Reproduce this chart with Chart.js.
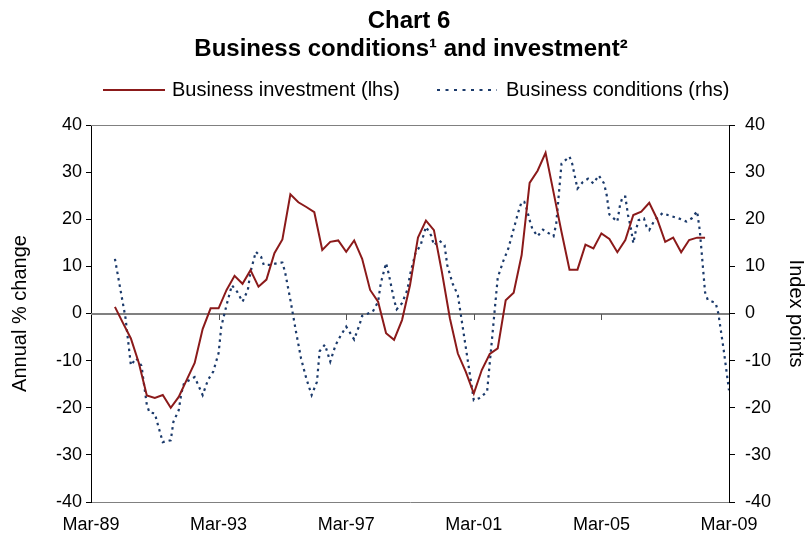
<!DOCTYPE html>
<html><head><meta charset="utf-8">
<script src="https://cdn.jsdelivr.net/npm/chart.js@4/dist/chart.umd.min.js"></script>
<style>html,body{margin:0;padding:0;background:#fff}#wrap{width:809px;height:539px}</style>
</head><body><div id="wrap"><canvas id="c" width="809" height="539"></canvas></div>
<script>
const titleLines = ['Chart 6', 'Business conditions\u00B9 and investment\u00B2'];
const seriesNames = ['Business investment (lhs)', 'Business conditions (rhs)'];
const axisTitles = ['Annual % change', 'Index points'];
const xTickLabels = ['Mar-89', 'Mar-93', 'Mar-97', 'Mar-01', 'Mar-05', 'Mar-09'];
const axisStart = '1989-03';
const axisEnd = '2009-03';

// Business investment, quarterly, starting Dec-89 (annual % change, lhs)
const investmentStart = '1989-12';
const investmentValues = [1.4, -2.0, -5.3, -10.5, -17.4, -17.9, -17.3, -20.0, -17.7, -14.1, -10.5, -3.3,
  1.1, 1.1, 5.0, 8.0, 6.3, 9.2, 5.7, 7.2, 12.8, 15.7, 25.3, 23.6, 22.6, 21.5, 13.5, 15.2, 15.5, 13.1,
  15.5, 11.6, 5.0, 2.5, -4.2, -5.6, -1.4, 6.0, 16.1, 19.7, 17.7, 8.8, -1.0, -8.5, -12.4, -17.0, -12.0,
  -8.6, -7.4, 2.8, 4.4, 12.4, 27.7, 30.3, 34.1, 25.7, 17.3, 9.3, 9.3, 14.6, 13.8, 17.0, 15.8, 13.0,
  15.6, 20.9, 21.6, 23.5, 20.0, 15.2, 16.1, 13.0, 15.6, 16.1, 16.1];

// Business conditions (index points, rhs)
const conditionsDates = ['1989-12','1990-04','1990-06','1990-08','1990-10','1990-12','1991-01','1991-03','1991-04','1991-06',
  '1991-09','1991-10','1991-12','1992-01','1992-02','1992-06','1992-09','1992-11','1993-01','1993-03',
  '1993-04','1993-06','1993-08','1993-10','1993-12','1994-02','1994-03','1994-05','1994-07','1994-08',
  '1994-10','1995-02','1995-03','1995-04','1995-06','1995-08','1995-10','1995-12','1996-02','1996-04',
  '1996-05','1996-07','1996-09','1996-11','1997-01','1997-03','1997-06','1997-08','1997-09','1998-01',
  '1998-03','1998-04','1998-06','1998-07','1998-09','1998-10','1998-12','1999-02','1999-03','1999-05',
  '1999-07','1999-09','1999-11','1999-12','2000-02','2000-04','2000-05','2000-07','2000-09','2001-03',
  '2001-05','2001-08','2001-12','2002-02','2002-04','2002-05','2002-07','2002-08','2002-09','2002-10',
  '2002-11','2002-12','2003-01','2003-03','2003-05','2003-09','2003-10','2003-12','2004-03','2004-04',
  '2004-06','2004-08','2004-10','2004-12','2005-02','2005-04','2005-05','2005-06','2005-09','2005-10',
  '2005-11','2005-12','2006-01','2006-02','2006-03','2006-04','2006-05','2006-07','2006-08','2006-09',
  '2006-11','2007-02','2007-04','2007-08','2007-11','2008-01','2008-03','2008-04','2008-06','2008-07',
  '2008-10','2008-11','2009-01','2009-03'];
const conditionsValues = [11.6, -1.0, -11.0, -9.5, -11.1, -19.4, -21.0, -21.2, -23.3, -27.3,
  -26.9, -23.0, -20.5, -16.9, -14.8, -13.5, -17.3, -14.1, -12.3, -8.4,
  -2.8, 1.8, 6.0, 4.6, 2.5, 5.0, 8.8, 13.1, 12.0, 10.3,
  10.3, 10.8, 10.8, 8.8, 2.9, -3.5, -9.5, -13.8, -17.3, -14.5,
  -8.0, -6.6, -10.2, -6.7, -4.6, -2.8, -5.5, -2.4, -0.5, 0.4,
  2.5, 6.4, 10.7, 8.4, 2.9, 0.9, 2.2, 5.0, 8.2, 12.7,
  14.5, 18.4, 16.5, 14.5, 15.5, 14.5, 10.3, 6.4, 3.9, -18.4,
  -18.0, -16.6, 7.6, 11.0, 13.8, 15.9, 20.0, 22.0, 23.7, 23.7,
  22.0, 19.8, 18.0, 16.4, 17.8, 16.4, 19.0, 31.8, 33.3, 31.8,
  26.5, 27.9, 28.6, 27.6, 29.3, 27.6, 25.1, 21.0, 19.5, 23.0,
  24.8, 24.8, 20.9, 18.4, 14.9, 17.7, 19.8, 20.2, 18.4, 17.7,
  19.8, 21.3, 20.9, 20.2, 19.5, 20.2, 21.7, 17.7, 4.5, 2.9,
  2.2, 0.0, -7.7, -16.3];

const yMin = -40, yMax = 40, yStep = 10;

function monthIndex(s) {
  const [y, m] = s.split('-').map(Number);
  const [y0, m0] = axisStart.split('-').map(Number);
  return (y - y0) * 12 + (m - m0);
}
const xMax = monthIndex(axisEnd);
const xStep = xMax / (xTickLabels.length - 1);

const invX0 = monthIndex(investmentStart);
const investmentData = investmentValues.map((v, i) => ({ x: invX0 + 3 * i, y: v }));
const conditionsData = conditionsDates.map((d, i) => ({ x: monthIndex(d), y: conditionsValues[i] }));

const FONT = '"Liberation Sans", Arial, sans-serif';
const RED = '#8B1A1A';
const NAVY = '#1B3A6B';

const decor = {
  id: 'decor',
  beforeDatasetsDraw(chart) {
    const { ctx, chartArea: a, scales } = chart;
    ctx.save();
    ctx.strokeStyle = '#808080';
    ctx.lineWidth = 1;
    ctx.beginPath();
    ctx.moveTo(a.left, a.top + 0.5);
    ctx.lineTo(a.right, a.top + 0.5);
    ctx.stroke();
    const y0 = Math.round(scales.y.getPixelForValue(0));
    ctx.lineWidth = 2;
    ctx.beginPath();
    ctx.moveTo(a.left, y0);
    ctx.lineTo(a.right, y0);
    ctx.stroke();
    ctx.strokeStyle = '#555';
    ctx.lineWidth = 1;
    for (let k = 1; k < xTickLabels.length - 1; k++) {
      const px = Math.round(scales.x.getPixelForValue(k * xStep)) + 0.5;
      ctx.beginPath();
      ctx.moveTo(px, y0);
      ctx.lineTo(px, y0 + 6);
      ctx.stroke();
    }
    ctx.restore();
  },
  afterDraw(chart) {
    const { ctx } = chart;
    ctx.save();
    ctx.fillStyle = '#000';
    ctx.textAlign = 'center';
    ctx.textBaseline = 'middle';
    ctx.font = 'bold 24px ' + FONT;
    ctx.fillText(titleLines[0], 409, 21);
    ctx.fillText(titleLines[1], 411, 49);
    ctx.font = '20px ' + FONT;
    ctx.textAlign = 'left';
    const ly = 90;
    ctx.strokeStyle = RED;
    ctx.lineWidth = 2;
    ctx.beginPath(); ctx.moveTo(103, ly); ctx.lineTo(165, ly); ctx.stroke();
    ctx.fillText(seriesNames[0], 172, ly);
    ctx.strokeStyle = NAVY;
    ctx.setLineDash([3, 5.5]);
    ctx.beginPath(); ctx.moveTo(437, ly); ctx.lineTo(497, ly); ctx.stroke();
    ctx.setLineDash([]);
    ctx.fillText(seriesNames[1], 506, ly);
    ctx.restore();
  }
};

const tickFont = { size: 18, family: FONT };

new Chart(document.getElementById('c'), {
  type: 'line',
  data: {
    datasets: [
      { label: seriesNames[0], data: investmentData, yAxisID: 'y', borderColor: RED, backgroundColor: RED,
        borderWidth: 2, pointRadius: 0, tension: 0, fill: false },
      { label: seriesNames[1], data: conditionsData, yAxisID: 'y2', borderColor: NAVY, backgroundColor: NAVY,
        borderWidth: 2.2, borderDash: [2.5, 4], pointRadius: 0, tension: 0, fill: false }
    ]
  },
  options: {
    responsive: false,
    animation: false,
    events: [],
    layout: { padding: { top: 125, left: 0, right: 0, bottom: 0 } },
    plugins: { legend: { display: false }, title: { display: false }, tooltip: { enabled: false } },
    scales: {
      x: {
        type: 'linear', position: 'bottom', min: 0, max: xMax,
        grid: { display: false, drawTicks: false },
        border: { display: true, color: '#808080', width: 1 },
        ticks: { stepSize: xStep, autoSkip: false, maxRotation: 0, color: '#000', font: tickFont, padding: 12,
          callback: (v) => xTickLabels[Math.round(v / xStep)] },
        afterFit: (s) => { s.height = 37; }
      },
      y: {
        position: 'left', min: yMin, max: yMax,
        grid: { drawOnChartArea: false, drawTicks: true, tickLength: 5, color: '#000', lineWidth: 1 },
        border: { display: true, color: '#000', width: 1 },
        ticks: { stepSize: yStep, color: '#000', font: tickFont, padding: 4 },
        title: { display: true, text: axisTitles[0], color: '#000', font: { size: 20, family: FONT }, padding: { top: 8, bottom: 0 } },
        afterFit: (s) => { s.width = 91; }
      },
      y2: {
        position: 'right', min: yMin, max: yMax,
        grid: { drawOnChartArea: false, drawTicks: true, tickLength: 6, color: '#000', lineWidth: 1 },
        border: { display: true, color: '#000', width: 1 },
        ticks: { stepSize: yStep, color: '#000', font: tickFont, padding: 10 },
        title: { display: true, text: axisTitles[1], color: '#000', font: { size: 20, family: FONT }, padding: { top: 1, bottom: 0 } },
        afterFit: (s) => { s.width = 80; }
      }
    }
  },
  plugins: [decor]
});
</script>
</body></html>
